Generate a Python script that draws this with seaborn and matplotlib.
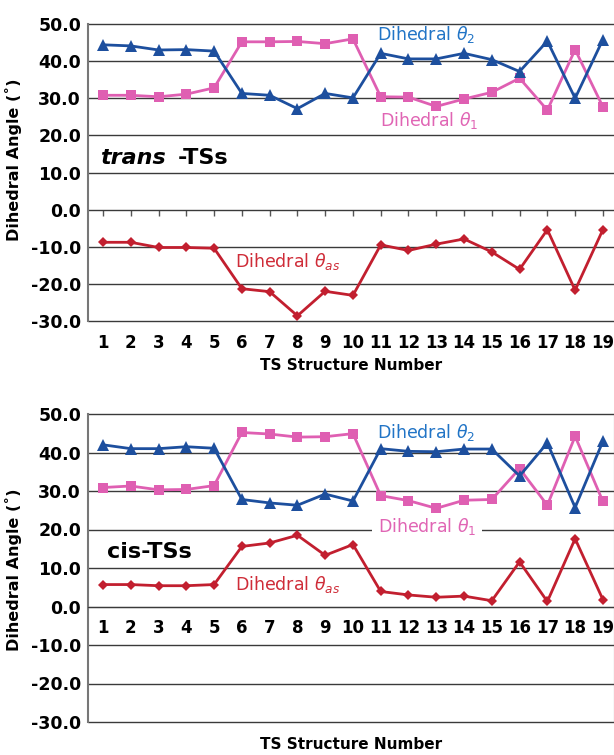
import matplotlib
matplotlib.use("Agg")
import matplotlib.pyplot as plt
import matplotlib.ticker as mticker
import seaborn as sns
import pandas as pd

sns.set_style("white")
plt.rcParams['font.family'] = ['DejaVu Sans']
plt.rcParams['mathtext.fontset'] = 'dejavusans'
plt.rcParams['text.color'] = 'black'
plt.rcParams['axes.labelcolor'] = 'black'
plt.rcParams['xtick.color'] = 'black'
plt.rcParams['ytick.color'] = 'black'

# TS structure numbers
ts_numbers = list(range(1, 20))

# trans-TSs dihedral angles (deg)
trans_theta2 = [44.4, 44.1, 43.0, 43.1, 42.7, 31.3, 30.8, 27.2, 31.3, 30.1,
                42.1, 40.6, 40.6, 42.1, 40.4, 37.2, 45.4, 30.0, 45.8]
trans_theta1 = [30.8, 30.8, 30.4, 31.1, 32.8, 45.2, 45.2, 45.3, 44.7, 46.0,
                30.4, 30.3, 27.8, 29.8, 31.6, 35.4, 26.8, 43.1, 27.7]
trans_theta_as = [-8.8, -8.8, -10.2, -10.2, -10.4, -21.3, -22.1, -28.6, -22.0, -23.1,
                  -9.5, -11.0, -9.3, -7.9, -11.4, -16.1, -5.4, -21.7, -5.4]

# cis-TSs dihedral angles (deg)
cis_theta2 = [42.0, 41.0, 41.0, 41.5, 41.1, 27.8, 26.9, 26.3, 29.2, 27.4,
              41.0, 40.3, 40.2, 40.9, 40.9, 33.9, 42.5, 25.7, 42.9]
cis_theta1 = [30.9, 31.3, 30.3, 30.4, 31.4, 45.2, 44.8, 44.0, 44.1, 44.9,
              28.8, 27.5, 25.5, 27.6, 27.8, 35.8, 26.3, 44.2, 27.3]
cis_theta_as = [5.7, 5.7, 5.4, 5.4, 5.7, 15.6, 16.5, 18.5, 13.3, 16.1,
                3.9, 3.0, 2.4, 2.7, 1.5, 11.6, 1.3, 17.6, 1.8]

y_ticks = [50, 40, 30, 20, 10, 0, -10, -20, -30]

blue_line = '#1d4f9e'
pink_line = '#df5fb2'
red_line = '#c21f2f'
blue_text = '#2174c6'
pink_text = '#e065b4'
red_text = '#cf2c38'

fig = plt.figure(figsize=(6.14, 7.55), dpi=100)
ax_top = fig.add_axes([88 / 614, 1 - 321 / 755, 526 / 614, 297 / 755])
ax_bot = fig.add_axes([88 / 614, 1 - 722 / 755, 526 / 614, 308 / 755])


def draw_panel(ax, theta2, theta1, theta_as):
    df = pd.DataFrame({'ts': ts_numbers, 'theta2': theta2,
                       'theta1': theta1, 'theta_as': theta_as})
    sns.lineplot(data=df, x='ts', y='theta_as', ax=ax, color=red_line, lw=2.0,
                 marker='D', markersize=5.5, markeredgewidth=0, zorder=3)
    sns.lineplot(data=df, x='ts', y='theta1', ax=ax, color=pink_line, lw=2.0,
                 marker='s', markersize=6.5, markeredgewidth=0, zorder=4)
    sns.lineplot(data=df, x='ts', y='theta2', ax=ax, color=blue_line, lw=2.0,
                 marker='^', markersize=8, markeredgewidth=0, zorder=5)

    ax.set_xlim(0.46, 19.4)
    ax.set_ylim(-30, 50)
    ax.set_yticks(y_ticks)
    ax.yaxis.set_major_formatter(mticker.FormatStrFormatter('%.1f'))
    ax.set_xticks(ts_numbers)
    ax.grid(axis='y', color='#3a3a3a', lw=1.0)
    ax.grid(axis='x', visible=False)
    for gl in ax.yaxis.get_gridlines():
        gl.set_clip_on(False)
    for s in ['top', 'right', 'bottom']:
        ax.spines[s].set_visible(False)
    ax.spines['left'].set_color('#777777')
    ax.spines['left'].set_linewidth(1.5)
    ax.tick_params(axis='y', length=4, width=1, color='#555555', pad=1,
                   labelsize=12.5)
    for lbl in ax.get_yticklabels():
        lbl.set_fontweight('bold')
    ax.set_ylabel('Dihedral Angle (˚)', fontsize=11.5, fontweight='bold')
    ax.set_xlabel('TS Structure Number', fontsize=11, fontweight='bold')


# trans panel
draw_panel(ax_top, trans_theta2, trans_theta1, trans_theta_as)
ax_top.tick_params(axis='x', length=0, pad=9, labelsize=12)
for lbl in ax_top.get_xticklabels():
    lbl.set_fontweight('bold')
sec = ax_top.secondary_xaxis(30 / 80)
sec.set_xticks(ts_numbers)
sec.tick_params(axis='x', length=4, width=1, color='#555555', labelbottom=False)
sec.spines['bottom'].set_visible(False)
ax_top.yaxis.set_label_coords(-0.125, 0.542)
ax_top.xaxis.set_label_coords(0.5, -0.125)

ax_top.text(10.86, 47.3, r'Dihedral $\theta_2$', color=blue_text, fontsize=12.5, va='center')
ax_top.text(10.97, 23.9, r'Dihedral $\theta_1$', color=pink_text, fontsize=12.5, va='center')
ax_top.text(5.75, -14.1, r'Dihedral $\theta_{as}$', color=red_text, fontsize=12.5, va='center')
ax_top.text(0.89, 13.9, 'trans', fontsize=16, fontweight='bold', style='italic', va='center')
ax_top.text(3.7, 13.9, '-TSs', fontsize=16, fontweight='bold', va='center')

# cis panel
draw_panel(ax_bot, cis_theta2, cis_theta1, cis_theta_as)
ax_bot.spines['bottom'].set_visible(True)
ax_bot.spines['bottom'].set_position(('data', 0))
ax_bot.spines['bottom'].set_color('#3a3a3a')
ax_bot.spines['right'].set_visible(True)
ax_bot.spines['right'].set_color('#777777')
ax_bot.tick_params(axis='x', length=4, width=1, color='#555555', pad=5, labelsize=12)
for lbl in ax_bot.get_xticklabels():
    lbl.set_fontweight('bold')
ax_bot.yaxis.set_label_coords(-0.125, 0.494)
ax_bot.xaxis.set_label_coords(0.5, -0.05)

ax_bot.text(10.86, 45.3, r'Dihedral $\theta_2$', color=blue_text, fontsize=12.5, va='center')
ax_bot.text(10.9, 20.7, r'Dihedral $\theta_1$', color=pink_text, fontsize=12.5, va='center',
            bbox=dict(facecolor='white', edgecolor='none', pad=4))
ax_bot.text(5.75, 5.7, r'Dihedral $\theta_{as}$', color=red_text, fontsize=12.5, va='center')
ax_bot.text(1.14, 14.2, 'cis-TSs', fontsize=16, fontweight='bold', va='center')

fig.savefig('out.png', dpi=100)
